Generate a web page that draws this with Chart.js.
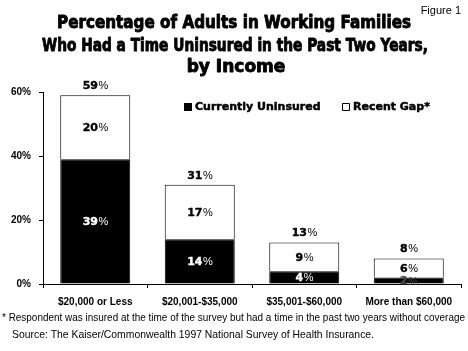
<!DOCTYPE html>
<html>
<head>
<meta charset="utf-8">
<script src="https://cdn.jsdelivr.net/npm/chart.js@4/dist/chart.umd.min.js"></script>
<style>
  html, body { margin: 0; padding: 0; background: #fff; }
  #wrap { width: 468px; height: 351px; }
</style>
</head>
<body>
<div id="wrap"><canvas id="fig1"></canvas></div>
<script>
// data
var incomeGroups = ['$20,000 or Less', '$20,001-$35,000', '$35,001-$60,000', 'More than $60,000'];
var currentlyUninsured = [39, 14, 4, 2];
var recentGap = [20, 17, 9, 6];
var yTicks = [0, 20, 40, 60];

var titleLines = [
  'Percentage of Adults in Working Families',
  'Who Had a Time Uninsured in the Past Two Years,',
  'by Income'
];
var footnotes = [
  '* Respondent was insured at the time of the survey but had a time in the past two years without coverage',
  'Source: The Kaiser/Commonwealth 1997 National Survey of Health Insurance.'
];

var boldFont = '"DejaVu Sans", sans-serif';
var armFont = '"Liberation Sans", Arial, sans-serif';
var narrowFont = '"Liberation Sans Narrow", "Liberation Sans", Arial, sans-serif';

// heavy text: fill plus a thin stroke to fake a black weight
function heavyText(ctx, txt, x, y, maxW, sw) {
  ctx.lineWidth = sw;
  ctx.lineJoin = 'round';
  ctx.strokeStyle = ctx.fillStyle;
  if (maxW) {
    ctx.fillText(txt, x, y, maxW);
    ctx.strokeText(txt, x, y, maxW);
  } else {
    ctx.fillText(txt, x, y);
    ctx.strokeText(txt, x, y);
  }
}

// draw "39%" with bold digits and a lighter percent sign
function pctText(ctx, value, x, y, color) {
  ctx.save();
  ctx.fillStyle = color;
  ctx.textBaseline = 'middle';
  ctx.font = 'bold 11px ' + boldFont;
  var num = String(value);
  var w1 = ctx.measureText(num).width;
  ctx.font = '11px ' + narrowFont;
  var w2 = ctx.measureText('%').width;
  var left = x - (w1 + w2) / 2;
  ctx.textAlign = 'left';
  ctx.font = 'bold 11px ' + boldFont;
  heavyText(ctx, num, left, y, 0, 0.4);
  ctx.font = '11px ' + narrowFont;
  ctx.fillText('%', left + w1 + 0.5, y);
  ctx.restore();
}

var decorations = {
  id: 'decorations',
  afterDraw: function (chart) {
    var ctx = chart.ctx;
    ctx.save();

    // title
    ctx.fillStyle = '#000';
    ctx.textAlign = 'center';
    ctx.textBaseline = 'alphabetic';
    ctx.font = 'bold 17px ' + boldFont;
    heavyText(ctx, titleLines[0], 234, 28, 354, 0.9);
    heavyText(ctx, titleLines[1], 235, 51, 386, 0.9);
    heavyText(ctx, titleLines[2], 236, 72, 0, 0.9);

    ctx.font = '11px ' + narrowFont;
    ctx.textAlign = 'right';
    ctx.textBaseline = 'middle';
    ctx.fillText('Figure 1', 461, 11);

    // legend
    var ds = chart.data.datasets;
    ctx.textAlign = 'left';
    ctx.font = 'bold 11px ' + boldFont;
    var legendPos = [[184, 107, 126], [342, 107, 82]];
    for (var i = 0; i < ds.length; i++) {
      var lx = legendPos[i][0], ly = legendPos[i][1];
      ctx.fillStyle = ds[i].backgroundColor;
      ctx.fillRect(lx, ly - 4, 8, 8);
      ctx.strokeStyle = '#000';
      ctx.lineWidth = 1;
      ctx.strokeRect(lx + 0.5, ly - 3.5, 7, 7);
      ctx.fillStyle = '#000';
      heavyText(ctx, ds[i].label, lx + 11, ly, legendPos[i][2], 0.5);
    }

    // segment labels
    var lower = chart.getDatasetMeta(0).data;
    var upper = chart.getDatasetMeta(1).data;
    for (var j = 0; j < incomeGroups.length; j++) {
      var b0 = lower[j], b1 = upper[j];
      pctText(ctx, currentlyUninsured[j], b0.x, (b0.y + b0.base) / 2 + 1, currentlyUninsured[j] < 3 ? '#444' : '#fff');
      pctText(ctx, recentGap[j], b1.x, (b1.y + b1.base) / 2 + 1, '#000');
      pctText(ctx, currentlyUninsured[j] + recentGap[j], b1.x, b1.y - 9, '#000');
    }

    // footnotes
    ctx.fillStyle = '#000';
    ctx.textAlign = 'left';
    ctx.textBaseline = 'alphabetic';
    ctx.font = '11px ' + narrowFont;
    ctx.fillText(footnotes[0], 2, 321, 463);
    ctx.fillText(footnotes[1], 12, 338, 362);

    ctx.restore();
  }
};

var ctx = document.getElementById('fig1').getContext('2d');
var chart = new Chart(ctx, {
  type: 'bar',
  data: {
    labels: incomeGroups,
    datasets: [{
      label: 'Currently Uninsured',
      data: currentlyUninsured,
      backgroundColor: '#000',
      borderColor: '#000',
      borderWidth: 1
    }, {
      label: 'Recent Gap*',
      data: recentGap,
      backgroundColor: '#fff',
      borderColor: '#000',
      borderWidth: 1
    }]
  },
  options: {
    responsive: true,
    maintainAspectRatio: false,
    animation: false,
    layout: { padding: { top: 92, left: 0, right: 7, bottom: 41 } },
    plugins: {
      legend: { display: false },
      title: { display: false },
      tooltip: { enabled: false }
    },
    datasets: { bar: { barPercentage: 0.67, categoryPercentage: 1 } },
    scales: {
      x: {
        stacked: true,
        grid: { display: true, drawOnChartArea: false, offset: true, color: '#000', tickLength: 4 },
        border: { display: true, color: '#000', width: 1 },
        ticks: {
          color: '#000',
          autoSkip: false,
          font: { family: armFont, size: 10, weight: 'bold' },
          maxRotation: 0,
          padding: 8
        },
        afterFit: function (s) { s.height = 26; }
      },
      y: {
        stacked: true,
        min: 0,
        max: 60,
        afterBuildTicks: function (s) {
          s.ticks = yTicks.map(function (v) { return { value: v }; });
        },
        grid: { display: true, drawOnChartArea: false, color: '#000', tickLength: 4 },
        border: { display: true, color: '#000', width: 1 },
        ticks: {
          color: '#000',
          font: { family: armFont, size: 10, weight: 'bold' },
          padding: 8,
          callback: function (v) { return v + '%'; }
        },
        afterFit: function (s) { s.width = 43; }
      }
    }
  },
  plugins: [decorations]
});
</script>
</body>
</html>
